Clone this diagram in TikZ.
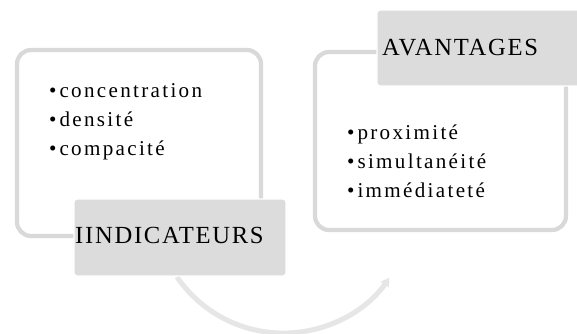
\documentclass[tikz,border=0pt]{standalone}
\usepackage{fontspec}
\setmainfont{Liberation Serif}
\newfontfamily\headfont[LetterSpace=7]{Liberation Serif}
\newfontfamily\itemfont[LetterSpace=11]{Liberation Serif}
\usetikzlibrary{arrows.meta}
\definecolor{panelgray}{HTML}{D9D9D9}
\definecolor{tabgray}{HTML}{DCDCDC}
\definecolor{arcgray}{HTML}{E6E6E6}
\tikzset{
 panel/.style={draw=panelgray,line width=3.6pt,fill=white,rounded corners=12pt},
 tab/.style={draw=white,line width=1.2pt,fill=tabgray,rounded corners=2.5pt},
 headtext/.style={inner sep=0pt,anchor=base west,font=\headfont\fontsize{21pt}{25pt}\selectfont},
 itemlist/.style={inner sep=0pt,anchor=north west,align=left,font=\itemfont\fontsize{18pt}{24.7pt}\selectfont}
}
\newcommand{\itm}{\textbullet\hspace{2.5pt}}
\begin{document}
\begin{tikzpicture}[x=0.03cm,y=-0.03cm]
 \fill[white] (0,0) rectangle (577,334);
 \useasboundingbox (0,0) rectangle (577,334);
 % left part
 \node[panel,minimum width=7.32cm,minimum height=5.58cm] (indpanel) at (139,143) {};
 \coordinate (arcstart) at (177,277);
 \draw[arcgray,line width=4.3pt,-{Triangle[length=7pt,width=8pt]}] (arcstart) arc[start angle=145.6,end angle=34.8,radius=129] coordinate (arcend);
 \node[tab,minimum width=6.36cm,minimum height=2.31cm] (indtab) at (180,237.5) {};
 \node[headtext] (indtitle) at (75,243) {IINDICATEURS};
 \node[itemlist] (indlist) at (49,83.5) {\itm concentration\\ \itm densité\\ \itm compacité};
 % right part
 \node[panel,minimum width=7.53cm,minimum height=5.34cm] (avpanel) at (440.5,141) {};
 \node[tab,minimum width=6.24cm,minimum height=2.28cm] (avtab) at (481,48) {};
 \node[headtext] (avtitle) at (382,55) {AVANTAGES};
 \node[itemlist] (avlist) at (347,125) {\itm proximité\\ \itm simultanéité\\ \itm immédiateté};
\end{tikzpicture}
\end{document}
